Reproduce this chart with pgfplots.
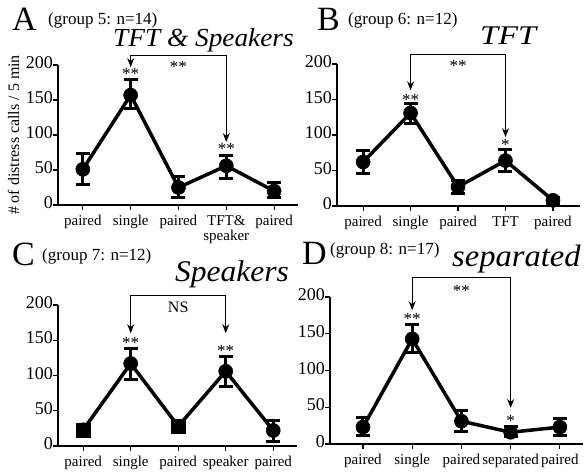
\documentclass[border=0pt]{standalone}
\usepackage{fontspec}
\setmainfont{Liberation Serif}
\usepackage{pgfplots}
\pgfplotsset{compat=1.18}
\usetikzlibrary{arrows.meta}

\pgfplotsset{
  panel/.style={
    scale only axis,
    axis lines=left,
    axis line style={-, line width=1.2pt},
    ymin=0, ymax=200, ytick={0,50,100,150,200},
    xtick={0,...,4},
    tick align=outside, major tick length=5pt,
    tick style={line width=1.2pt, black},
    clip=false,
    /pgf/number format/assume math mode=true,
    yticklabel style={font=\fontsize{18}{18}\selectfont, inner sep=1pt, xshift=1pt},
    xticklabel style={font=\fontsize{15}{15}\selectfont, align=center, inner sep=2pt, yshift=-3pt},
    typeset ticklabels with strut,
  },
  calls/.style={
    black, line width=3.5pt, mark=*, mark size=7pt, mark options={solid, line width=0.6pt},
    error bars/.cd, y dir=both, y explicit,
    error bar style={line width=3pt},
    error mark options={rotate=90, mark size=7pt, line width=3pt},
  },
}
\tikzset{bracket/.style={line width=1pt, {Stealth[length=9pt,width=7pt]}-{Stealth[length=9pt,width=7pt]}}}
\newcommand{\starfont}{\fontsize{17}{17}\selectfont}

\begin{document}
\begin{tikzpicture}[x=1pt,y=1pt]
\path[use as bounding box] (0,0) rectangle (585,473);

% ---- A ----
\node[anchor=base west, font=\fontsize{34}{34}\selectfont, inner sep=0] at (12,442) {A};
\node[anchor=base west, font=\fontsize{17}{17}\selectfont, inner sep=0] at (48,448) {(group 5: n=14)};
\node[anchor=base west, font=\fontsize{26}{26}\selectfont\itshape, inner sep=0, xscale=1.05] at (113,426) {TFT \& Speakers};
\begin{axis}[panel, at={(58pt,268pt)}, anchor=south west, width=240pt, height=140pt,
  xmin=-0.52, xmax=4.5,
  xticklabels={paired,single,paired,{TFT\&\\speaker},paired},
  ylabel={\# of distress calls / 5 min},
  ylabel style={font=\fontsize{16}{16}\selectfont, yshift=2pt}]
\addplot+[calls] coordinates {
  (0,51) +=(0,23) -=(0,22)
  (1,157) +=(0,22) -=(0,19)
  (2,25) +=(0,15) -=(0,14)
  (3,56) +=(0,14) -=(0,18)
  (4,20) +=(0,12) -=(0,10)
};
\draw[bracket] (axis cs:1,197) -- (axis cs:1,214) -- (axis cs:3,214) -- (axis cs:3,90);
\node[anchor=base, font=\starfont, yshift=-8pt] at (axis cs:2,200) {**};
\node[anchor=base, font=\starfont, yshift=-8pt] at (axis cs:1,190) {**};
\node[anchor=base, font=\starfont, yshift=-8pt] at (axis cs:3,83) {**};
\end{axis}

% ---- B ----
\node[anchor=base west, font=\fontsize{34}{34}\selectfont, inner sep=0] at (317,442) {B};
\node[anchor=base west, font=\fontsize{17}{17}\selectfont, inner sep=0] at (348,448) {(group 6: n=12)};
\node[anchor=base west, font=\fontsize{27}{27}\selectfont\itshape, inner sep=0, xscale=1.2] at (480,428) {TFT};
\begin{axis}[panel, at={(337pt,267pt)}, anchor=south west, width=243pt, height=142pt,
  xmin=-0.55, xmax=4.57,
  xticklabels={paired,single,paired,TFT,paired}]
\addplot+[calls] coordinates {
  (0,62) +=(0,16) -=(0,16)
  (1,131) +=(0,14) -=(0,15)
  (2,27) +=(0,9) -=(0,9)
  (3,64) +=(0,15) -=(0,16)
  (4,8) +=(0,4) -=(0,4)
};
\draw[bracket] (axis cs:1,163) -- (axis cs:1,213) -- (axis cs:3,213) -- (axis cs:3,97);
\node[anchor=base, font=\starfont, yshift=-8pt] at (axis cs:2,201) {**};
\node[anchor=base, font=\starfont, yshift=-8pt] at (axis cs:1,153) {**};
\node[anchor=base, font=\starfont, yshift=-8pt] at (axis cs:3,90) {*};
\end{axis}

% ---- C ----
\node[anchor=base west, font=\fontsize{34}{34}\selectfont, inner sep=0] at (12,207) {C};
\node[anchor=base west, font=\fontsize{17}{17}\selectfont, inner sep=0] at (42,212) {(group 7: n=12)};
\node[anchor=base west, font=\fontsize{30}{30}\selectfont\itshape, inner sep=0, xscale=1.05] at (175,191) {Speakers};
\begin{axis}[panel, at={(58pt,27pt)}, anchor=south west, width=239pt, height=141pt,
  xmin=-0.53, xmax=4.5,
  xticklabels={paired,single,paired,speaker,paired}]
\addplot+[calls] coordinates {
  (0,23) +=(0,3) -=(0,3)
  (1,117) +=(0,21) -=(0,22)
  (2,28) +=(0,4) -=(0,4)
  (3,106) +=(0,21) -=(0,22)
  (4,22) +=(0,14) -=(0,15)
};
\addplot[only marks, mark=square*, mark size=7pt, black] coordinates {(0,23) (2,28)};
\draw[bracket] (axis cs:1,160) -- (axis cs:1,214) -- (axis cs:3,214) -- (axis cs:3,160);
\node[font=\fontsize{16}{16}\selectfont] at (axis cs:2,197) {NS};
\node[anchor=base, font=\starfont, yshift=-8pt] at (axis cs:1,150) {**};
\node[anchor=base, font=\starfont, yshift=-8pt] at (axis cs:3,139) {**};
\end{axis}

% ---- D ----
\node[anchor=base west, font=\fontsize{34}{34}\selectfont, inner sep=0] at (302,208) {D};
\node[anchor=base west, font=\fontsize{17}{17}\selectfont, inner sep=0] at (330,218) {(group 8: n=17)};
\node[anchor=base west, font=\fontsize{31}{31}\selectfont\itshape, inner sep=0, xscale=1.05] at (452,206) {separated};
\begin{axis}[panel, at={(330pt,29pt)}, anchor=south west, width=253pt, height=147pt,
  xmin=-0.67, xmax=4.47,
  xticklabels={paired,single,paired,separated,paired}]
\addplot+[calls] coordinates {
  (0,23) +=(0,13) -=(0,12)
  (1,143) +=(0,19) -=(0,18)
  (2,31) +=(0,15) -=(0,14)
  (3,16) +=(0,8) -=(0,6)
  (4,23) +=(0,12) -=(0,12)
};
\draw[bracket] (axis cs:1,182) -- (axis cs:1,226) -- (axis cs:3,226) -- (axis cs:3,49);
\node[anchor=base, font=\starfont, yshift=-8pt] at (axis cs:2,212) {**};
\node[anchor=base, font=\starfont, yshift=-8pt] at (axis cs:1,173) {**};
\node[anchor=base, font=\starfont, yshift=-8pt] at (axis cs:3,35) {*};
\end{axis}
\end{tikzpicture}
\end{document}
